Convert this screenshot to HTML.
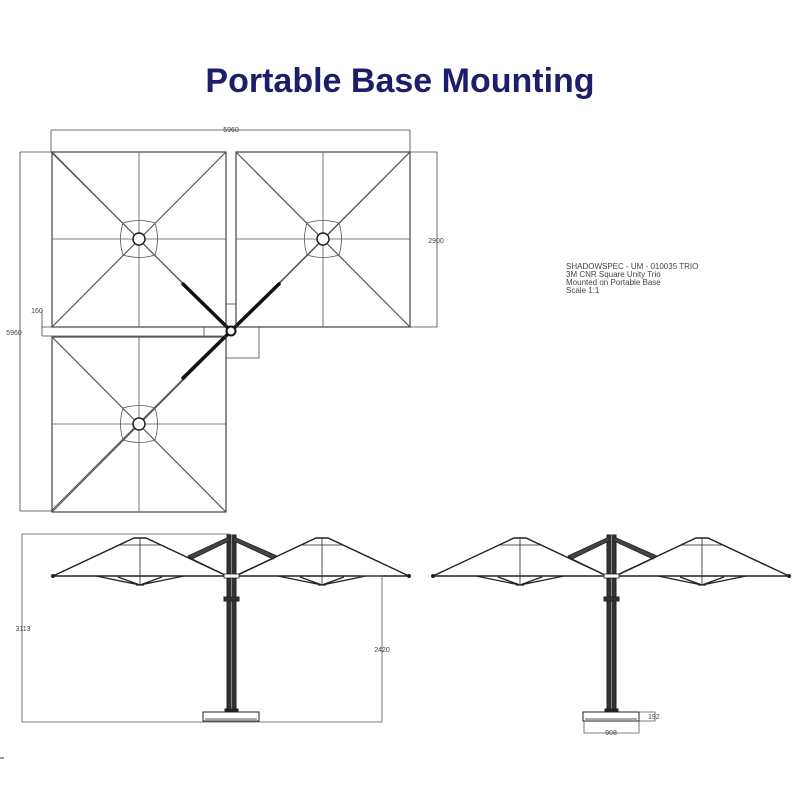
<!DOCTYPE html>
<html><head><meta charset="utf-8"><style>
html,body{margin:0;padding:0;background:#fff;}
svg{display:block}
</style></head><body>
<svg width="800" height="800" viewBox="0 0 800 800" xmlns="http://www.w3.org/2000/svg">
<rect width="800" height="800" fill="#fff"/>
<text x="400" y="92" text-anchor="middle" font-family="Liberation Sans, sans-serif" font-weight="bold" font-size="34" fill="#1b1e69">Portable Base Mounting</text>

<defs>
<g id="sq" stroke="#555" fill="none">
  <rect x="-87" y="-87" width="174" height="175" stroke="#444" stroke-width="1.2"/>
  <line x1="-87" y1="-87" x2="87" y2="88" stroke-width="1.2"/>
  <line x1="87" y1="-87" x2="-87" y2="88" stroke-width="1.2"/>
  <line x1="0" y1="-87" x2="0" y2="88" stroke-width="0.8"/>
  <line x1="-87" y1="0" x2="87" y2="0" stroke-width="0.8"/>
  <path d="M-16,-16 Q0,-21 16,-16 Q21,0 16,16 Q0,21 -16,16 Q-21,0 -16,-16Z" stroke-width="0.8"/>
  <circle r="6" fill="#fff" stroke="#222" stroke-width="1.5"/>
</g>
<g id="umb" stroke="#222" fill="none">
  <path d="M-87,576 L-6,538 L6,538 L87,576 Z" stroke-width="1.4"/>
  <line x1="-20" y1="545" x2="20" y2="545" stroke-width="0.8"/>
  <line x1="0" y1="538" x2="0" y2="585" stroke-width="0.8"/>
  <path d="M0,585 L-44,576 M0,585 L44,576 M0,585 L-22,577 M0,585 L22,577 M-4,585 L4,585" stroke-width="1.3"/>
  <circle cx="-87" cy="576" r="1.5" fill="#222"/>
  <circle cx="87" cy="576" r="1.5" fill="#222"/>
</g>
<g id="pole" stroke="#222">
  <rect x="227" y="535" width="9" height="176" fill="#333" stroke-width="1"/>
  <line x1="231.5" y1="535" x2="231.5" y2="711" stroke="#888" stroke-width="1"/>
  <path d="M229,537 L188,556 L192,559 L229,541 Z M234,537 L277,556 L273,559 L234,541 Z" fill="#444" stroke-width="0.8"/>
  <line x1="188" y1="557" x2="225" y2="575" stroke-width="1.2"/>
  <line x1="276" y1="557" x2="238" y2="575" stroke-width="1.2"/>
  <rect x="224" y="597" width="15" height="4" fill="#333"/>
  <rect x="224" y="574" width="15" height="4" fill="#fff" stroke-width="0.8"/>
  <rect x="225" y="709" width="13" height="3" fill="#222"/>
  <rect x="203" y="712" width="56" height="9" fill="#fff" stroke-width="1"/>
  <line x1="205" y1="719" x2="257" y2="719" stroke-width="0.8"/>
</g>
</defs>

<g>
  <line x1="231" y1="331" x2="51" y2="152" stroke="#555"/>
  <line x1="231" y1="331" x2="410" y2="152" stroke="#555"/>
  <line x1="231" y1="331" x2="51" y2="511" stroke="#555"/>
  <use href="#sq" x="139" y="239"/>
  <use href="#sq" x="323" y="239"/>
  <use href="#sq" x="139" y="424"/>
  <g stroke="#111" stroke-width="3.5" stroke-linecap="round">
    <line x1="183" y1="284" x2="229" y2="329"/>
    <line x1="279" y1="284" x2="233" y2="329"/>
    <line x1="183" y1="378" x2="229" y2="333"/>
  </g>
  <circle cx="231" cy="331" r="4.5" fill="#fff" stroke="#111" stroke-width="2"/>
  <g stroke="#444" stroke-width="0.8" fill="none">
    <line x1="51" y1="130" x2="410" y2="130"/>
    <line x1="51" y1="130" x2="51" y2="152"/>
    <line x1="410" y1="130" x2="410" y2="152"/>
    <line x1="410" y1="152" x2="437" y2="152"/>
    <line x1="410" y1="327" x2="437" y2="327"/>
    <line x1="437" y1="152" x2="437" y2="327"/>
    <line x1="20" y1="152" x2="51" y2="152"/>
    <line x1="20" y1="511" x2="51" y2="511"/>
    <line x1="20" y1="152" x2="20" y2="511"/>
    <line x1="42" y1="310" x2="42" y2="336"/>
    <line x1="42" y1="327" x2="226" y2="327"/>
    <line x1="42" y1="336" x2="226" y2="336"/>
    <line x1="204" y1="327" x2="204" y2="336"/>
    <line x1="226" y1="304" x2="236" y2="304"/>
    <line x1="226" y1="304" x2="226" y2="327"/>
    <line x1="236" y1="304" x2="236" y2="327"/>
    <polyline points="226,336 226,358 259,358 259,327 236,327"/>
  </g>
  <g font-family="Liberation Sans, sans-serif" font-size="7" fill="#444">
    <text x="231" y="132" text-anchor="middle">5960</text>
    <text x="436" y="243" text-anchor="middle" fill="#444">2900</text>
    <text x="14" y="335" text-anchor="middle">5960</text>
    <text x="37" y="313" text-anchor="middle">160</text>
  </g>
</g>

<text font-family="Liberation Sans, sans-serif" font-size="8" fill="#444">
  <tspan x="566" y="269">SHADOWSPEC - UM - 010035 TRIO</tspan>
  <tspan x="566" y="277">3M CNR Square Unity Trio</tspan>
  <tspan x="566" y="285">Mounted on Portable Base</tspan>
  <tspan x="566" y="293">Scale 1:1</tspan>
</text>

<use href="#umb" x="140" y="0"/>
<use href="#umb" x="322" y="0"/>
<use href="#pole"/>
<g stroke="#555" stroke-width="0.8" fill="none">
  <polyline points="230,534 22,534 22,722 382,722 382,576 360,576"/>
</g>
<g font-family="Liberation Sans, sans-serif" font-size="7" fill="#444">
  <text x="23" y="631" text-anchor="middle">3113</text>
  <text x="382" y="652" text-anchor="middle">2420</text>
</g>

<g transform="translate(380,0)">
  <use href="#umb" x="140" y="0"/>
  <use href="#umb" x="322" y="0"/>
  <use href="#pole"/>
</g>
<g stroke="#555" stroke-width="0.8" fill="none">
  <polyline points="639,712 655,712 655,721 639,721"/>
  <polyline points="584,721 584,733 639,733 639,721"/>
</g>
<g font-family="Liberation Sans, sans-serif" font-size="7" fill="#444">
  <text x="648" y="719">192</text>
  <text x="611" y="735" text-anchor="middle">908</text>
</g>
<line x1="0" y1="758" x2="4" y2="758" stroke="#333"/>
</svg>
</body></html>
